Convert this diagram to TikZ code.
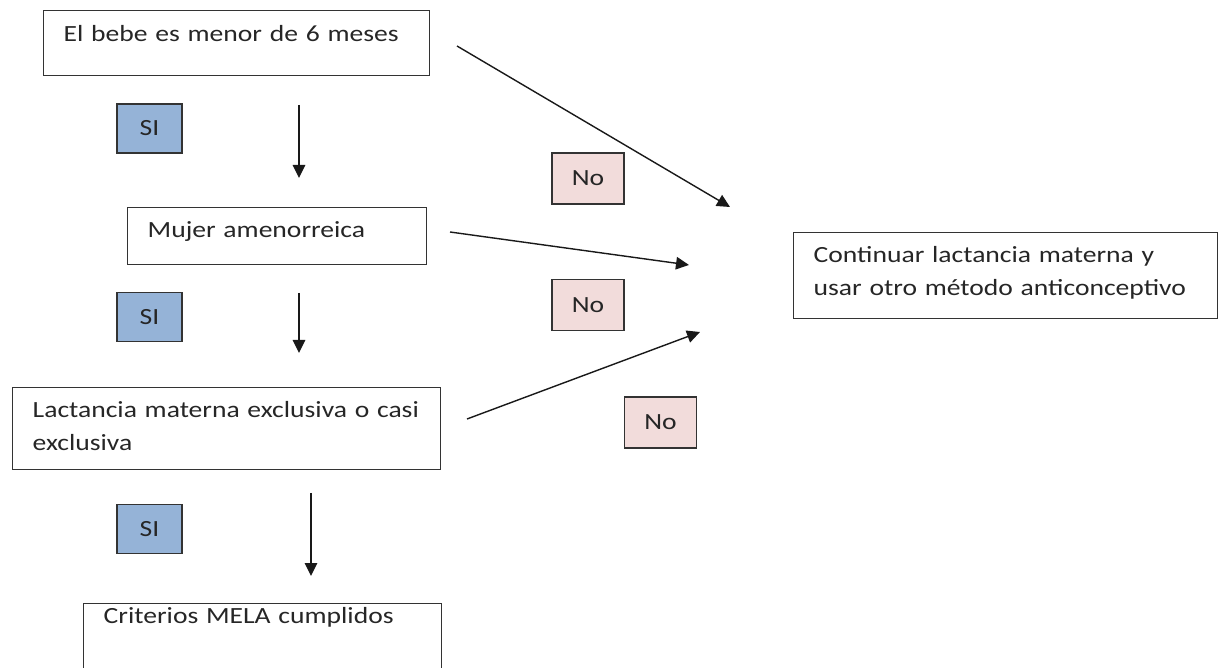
\documentclass[tikz,border=0pt]{standalone}
\usepackage{fontspec}
\setmainfont{Carlito}[FakeStretch=1.19]
\usetikzlibrary{arrows.meta}
\definecolor{siblue}{HTML}{95B3D7}
\definecolor{nopink}{HTML}{F2DCDB}

\begin{document}
\begin{tikzpicture}[
  x=0.02cm,
  y=-0.02cm,
  >={Triangle[length=0.26cm,width=0.25cm]},
  stepbox/.style={
    draw=black!80,
    line width=0.8pt,
    anchor=north west,
    align=left,
    inner xsep=0.4cm,
    inner ysep=0pt,
    text height=0.6cm,
    text=black!85,
    font=\fontsize{13.2}{18.8}\selectfont
  },
  answer/.style={
    draw=black!80,
    line width=1.1pt,
    inner sep=0pt,
    text=black!85,
    font=\fontsize{13.2}{18.8}\selectfont
  },
  sibox/.style={answer, fill=siblue, minimum width=1.3cm, minimum height=0.98cm},
  nobox/.style={answer, fill=nopink, minimum width=1.44cm, minimum height=1.02cm},
  arrow/.style={->, line width=0.8pt, black!90}
]
  \useasboundingbox (0,0) rectangle (1228,668);

  \node[stepbox, text width=6.92cm, text height=0.62cm, text depth=0.68cm] (edad) at (43,10)
    {El bebe es menor de 6 meses};
  \node[stepbox, text width=5.18cm, text depth=0.54cm] (amen) at (127,207)
    {Mujer amenorreica};
  \node[stepbox, text width=7.76cm, text depth=1.04cm] (lact) at (12,387)
    {\mbox{Lactancia materna exclusiva o casi}\\ exclusiva};
  \node[stepbox, text width=6.36cm, text height=0.4cm, text depth=0.98cm] (mela) at (83,603)
    {Criterios MELA cumplidos};
  \node[stepbox, text width=7.68cm, text depth=1.12cm] (otro) at (793,232)
    {Continuar lactancia materna y\\ usar otro método anticonceptivo};

  \node[sibox] (si1) at (149.5,128.5) {SI};
  \node[sibox] (si2) at (149.5,317) {SI};
  \node[sibox] (si3) at (149.5,529) {SI};
  \node[nobox] (no1) at (588,178.5) {No};
  \node[nobox] (no2) at (588,305) {No};
  \node[nobox] (no3) at (660.5,422.5) {No};

  \coordinate (d1a) at (299,105);
  \coordinate (d1b) at (299,178);
  \coordinate (d2a) at (299,293);
  \coordinate (d2b) at (299,353);
  \coordinate (d3a) at (311,493);
  \coordinate (d3b) at (311,576);
  \coordinate (n1a) at (457,46);
  \coordinate (n1b) at (730,207);
  \coordinate (n2a) at (450,232);
  \coordinate (n2b) at (689,265);
  \coordinate (n3a) at (467,419);
  \coordinate (n3b) at (700,332);

  \draw[arrow] (d1a) -- (d1b);
  \draw[arrow] (d2a) -- (d2b);
  \draw[arrow] (d3a) -- (d3b);
  \draw[arrow] (n1a) -- (n1b);
  \draw[arrow] (n2a) -- (n2b);
  \draw[arrow] (n3a) -- (n3b);
\end{tikzpicture}
\end{document}
